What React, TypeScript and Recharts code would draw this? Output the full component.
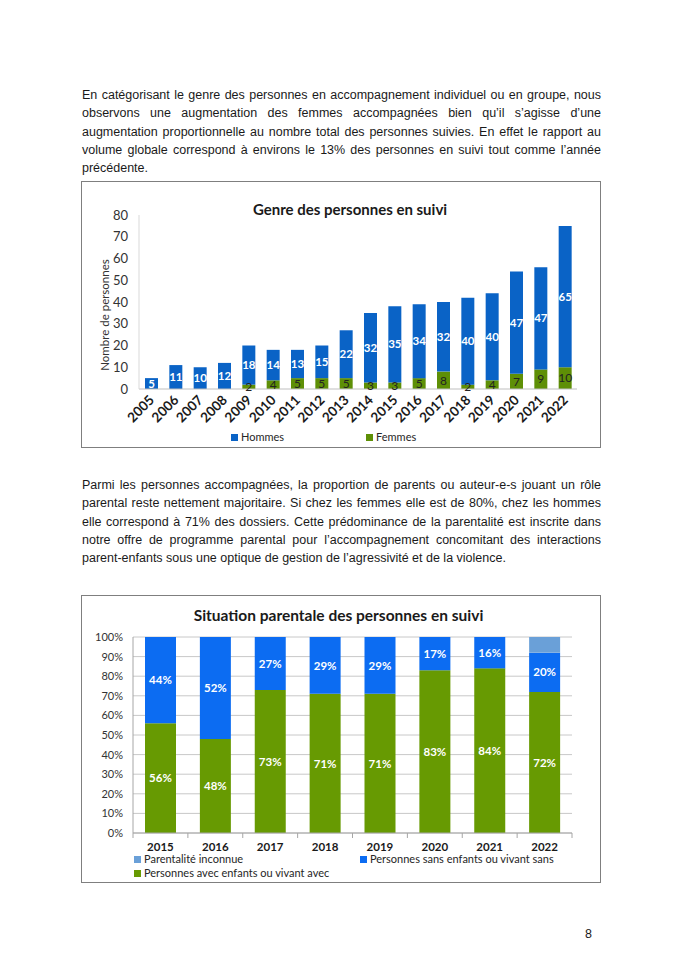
import React from 'react'
import { BarChart, Bar, XAxis, YAxis, CartesianGrid, LabelList, Legend } from 'recharts'

// --- chart 1 data: Genre des personnes en suivi
const years1 = ['2005', '2006', '2007', '2008', '2009', '2010', '2011', '2012', '2013', '2014', '2015', '2016', '2017', '2018', '2019', '2020', '2021', '2022']
const hommes = [5, 11, 10, 12, 18, 14, 13, 15, 22, 32, 35, 34, 32, 40, 40, 47, 47, 65]
const femmes = [0, 0, 0, 0, 2, 4, 5, 5, 5, 3, 3, 5, 8, 2, 4, 7, 9, 10]
const ticks1 = [0, 10, 20, 30, 40, 50, 60, 70, 80]

// --- chart 2 data: Situation parentale des personnes en suivi
const years2 = ['2015', '2016', '2017', '2018', '2019', '2020', '2021', '2022']
const avecEnfants = [56, 48, 73, 71, 71, 83, 84, 72]
const sansEnfants = [44, 52, 27, 29, 29, 17, 16, 20]
const inconnue = [0, 0, 0, 0, 0, 0, 0, 8]
const ticks2 = [0, 10, 20, 30, 40, 50, 60, 70, 80, 90, 100]

const para1 = [
  'En catégorisant le genre des personnes en accompagnement individuel ou en groupe, nous',
  'observons une augmentation des femmes accompagnées bien qu’il s’agisse d’une',
  'augmentation proportionnelle au nombre total des personnes suivies. En effet le rapport au',
  'volume globale correspond à environs le 13% des personnes en suivi tout comme l’année',
  'précédente.',
]
const para2 = [
  'Parmi les personnes accompagnées, la proportion de parents ou auteur-e-s jouant un rôle',
  'parental reste nettement majoritaire. Si chez les femmes elle est de 80%, chez les hommes',
  'elle correspond à 71% des dossiers. Cette prédominance de la parentalité est inscrite dans',
  'notre offre de programme parental pour l’accompagnement concomitant des interactions',
  'parent-enfants sous une optique de gestion de l’agressivité et de la violence.',
]

const data1 = years1.map((year, i) => ({ year, hommes: hommes[i], femmes: femmes[i] }))
const data2 = years2.map((year, i) => ({ year, avec: avecEnfants[i], sans: sansEnfants[i], inconnue: inconnue[i] }))

const BLUE1 = '#0a63c6'
const GREEN1 = '#5e8f06'
const BLUE2 = '#0c6cf2'
const LIGHT2 = '#6aa0d8'
const GREEN2 = '#679a02'
const CHART_FONT = 'Lato, "Open Sans", sans-serif'
const TEXT_FONT = '"Liberation Sans", Arial, sans-serif'

const BOX_W = 518
const C1_H = 265
const C2_H = 286
const C2_MARGIN = { top: 41, right: 28, left: 0, bottom: 0 }
const C2_YW = 51
const band2 = (BOX_W - C2_YW - C2_MARGIN.right) / years2.length

function Paragraph({ lines, top }: { lines: string[]; top: number }) {
  return (
    <div style={{ position: 'absolute', left: 82, top, width: 519, fontFamily: TEXT_FONT, fontSize: 12.5, lineHeight: '18.3px', color: '#1a1a1a' }}>
      {lines.map((l, i) => (
        <div key={i} style={{ textAlign: 'justify', textAlignLast: i === lines.length - 1 ? 'left' : 'justify', whiteSpace: 'nowrap' }}>
          {l}
        </div>
      ))}
    </div>
  )
}

function RotatedTick(props: any) {
  const { x, y, payload } = props
  const ax = x + 4
  const ay = y + 12
  return (
    <text x={ax} y={ay} transform={`rotate(-45 ${ax} ${ay})`} textAnchor="end" fontSize={13.5} fontWeight={700} fill="#1a1a1a" fontFamily={CHART_FONT}>
      {payload.value}
    </text>
  )
}

function YearTick(props: any) {
  const { x, y, payload, index } = props
  const left = x - band2 / 2
  return (
    <g>
      <line x1={left} y1={y} x2={left} y2={y + 5} stroke="#a6a6a6" />
      {index === years2.length - 1 && <line x1={x + band2 / 2} y1={y} x2={x + band2 / 2} y2={y + 5} stroke="#a6a6a6" />}
      <text x={x} y={y + 17.5} textAnchor="middle" fontSize={11.5} fontWeight={700} fill="#1a1a1a" fontFamily={CHART_FONT}>
        {payload.value}
      </text>
    </g>
  )
}

function YLabel1(props: any) {
  const { viewBox } = props
  const cx = viewBox.x + 22
  const cy = viewBox.y + viewBox.height / 2 + 13
  return (
    <text x={cx} y={cy} transform={`rotate(-90 ${cx} ${cy})`} textAnchor="middle" dominantBaseline="central" fontSize={11.5} fill="#333" fontFamily={CHART_FONT}>
      Nombre de personnes
    </text>
  )
}

function Swatch({ color, label, x, y }: { color: string; label: string; x: number; y: number }) {
  return (
    <div style={{ position: 'absolute', left: x, top: y - 7, display: 'flex', alignItems: 'center', height: 14, whiteSpace: 'nowrap' }}>
      <span style={{ width: 7, height: 7, background: color, display: 'inline-block', marginRight: 3 }} />
      <span style={{ fontSize: 11, lineHeight: '12px', color: '#262626', fontFamily: CHART_FONT }}>{label}</span>
    </div>
  )
}

function Legend1() {
  return (
    <div style={{ position: 'relative', width: BOX_W, height: 20 }}>
      <Swatch color={BLUE1} label="Hommes" x={149} y={10} />
      <Swatch color={GREEN1} label="Femmes" x={284} y={10} />
    </div>
  )
}

function Legend2() {
  return (
    <div style={{ position: 'relative', width: BOX_W, height: 34 }}>
      <Swatch color={LIGHT2} label="Parentalité inconnue" x={52} y={9} />
      <Swatch color={BLUE2} label="Personnes sans enfants ou vivant sans" x={278} y={9} />
      <Swatch color={GREEN2} label="Personnes avec enfants ou vivant avec" x={52} y={23} />
    </div>
  )
}

const boxStyle: React.CSSProperties = {
  position: 'absolute',
  left: 81,
  width: BOX_W,
  border: '1.5px solid #7f7f7f',
  background: '#fff',
}

export default function App() {
  return (
    <div style={{ position: 'absolute', left: 0, top: 0, width: 684, height: 968, background: '#fff' }}>
      <Paragraph lines={para1} top={86} />

      <div style={{ ...boxStyle, top: 181, height: C1_H }}>
        <div style={{ position: 'absolute', left: 0, width: BOX_W, top: 18, textAlign: 'center', paddingLeft: 18, boxSizing: 'border-box', fontFamily: CHART_FONT, fontWeight: 700, fontSize: 15, color: '#1a1a1a' }}>
          Genre des personnes en suivi
        </div>
        <BarChart width={BOX_W} height={C1_H} data={data1} margin={{ top: 33, right: 23, left: 0, bottom: 0 }} style={{ position: 'absolute', left: 0, top: 0 }}>
          <XAxis dataKey="year" interval={0} height={58} axisLine={{ stroke: '#bfbfbf' }} tickLine={false} tickSize={0} tickMargin={0} tick={<RotatedTick />} />
          <YAxis
            domain={[0, 80]}
            ticks={ticks1}
            interval={0}
            width={57}
            axisLine={{ stroke: '#d9d9d9' }}
            tickLine={false}
            tickSize={0}
            tickMargin={11}
            tick={{ fontSize: 13, fill: '#333', fontFamily: CHART_FONT }}
            label={<YLabel1 />}
          />
          <Legend verticalAlign="middle" layout="horizontal" wrapperStyle={{ left: 0, top: 245 }} content={<Legend1 />} />
          <Bar dataKey="femmes" stackId="a" fill={GREEN1} barSize={13} isAnimationActive={false}>
            <LabelList dataKey="femmes" position="center" fill="#222" fontSize={12} fontFamily={CHART_FONT} />
          </Bar>
          <Bar dataKey="hommes" stackId="a" fill={BLUE1} barSize={13} isAnimationActive={false}>
            <LabelList dataKey="hommes" position="center" fill="#fff" fontSize={11.5} fontWeight={700} fontFamily={CHART_FONT} />
          </Bar>
        </BarChart>
      </div>

      <Paragraph lines={para2} top={476} />

      <div style={{ ...boxStyle, top: 595, height: C2_H }}>
        <div style={{ position: 'absolute', left: 0, width: BOX_W, top: 10, textAlign: 'center', boxSizing: 'border-box', paddingRight: 5, fontFamily: CHART_FONT, fontWeight: 700, fontSize: 15.5, color: '#1a1a1a' }}>
          Situation parentale des personnes en suivi
        </div>
        <BarChart width={BOX_W} height={C2_H} data={data2} margin={C2_MARGIN} style={{ position: 'absolute', left: 0, top: 0 }}>
          <CartesianGrid vertical={false} stroke="#c8c8c8" />
          <XAxis dataKey="year" interval={0} height={49} axisLine={{ stroke: '#a6a6a6' }} tickLine={false} tickSize={0} tickMargin={0} tick={<YearTick />} />
          <YAxis
            domain={[0, 100]}
            ticks={ticks2}
            interval={0}
            width={C2_YW}
            axisLine={{ stroke: '#a6a6a6' }}
            tickLine={false}
            tickSize={0}
            tickMargin={10}
            tickFormatter={(v: number) => `${v}%`}
            tick={{ fontSize: 11, fill: '#333', fontFamily: CHART_FONT }}
          />
          <Legend verticalAlign="middle" layout="horizontal" wrapperStyle={{ left: 0, top: 254 }} content={<Legend2 />} />
          <Bar dataKey="avec" stackId="b" fill={GREEN2} barSize={31} isAnimationActive={false}>
            <LabelList dataKey="avec" position="center" fill="#fff" fontSize={11.5} fontWeight={700} fontFamily={CHART_FONT} formatter={(v: any) => `${v}%`} />
          </Bar>
          <Bar dataKey="sans" stackId="b" fill={BLUE2} barSize={31} isAnimationActive={false}>
            <LabelList dataKey="sans" position="center" fill="#fff" fontSize={11.5} fontWeight={700} fontFamily={CHART_FONT} formatter={(v: any) => `${v}%`} />
          </Bar>
          <Bar dataKey="inconnue" stackId="b" fill={LIGHT2} barSize={31} isAnimationActive={false} />
        </BarChart>
      </div>

      <div style={{ position: 'absolute', left: 585, top: 927, fontFamily: TEXT_FONT, fontSize: 12.5, color: '#1a1a1a' }}>8</div>
    </div>
  )
}
